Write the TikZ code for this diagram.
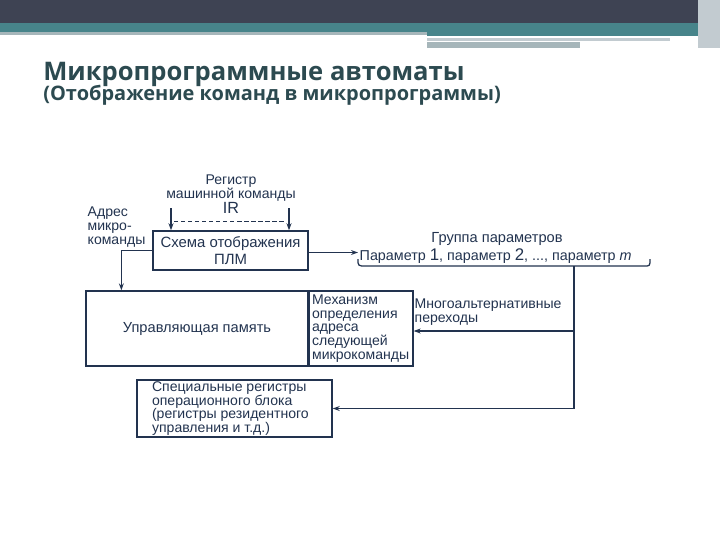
\documentclass[tikz,border=0pt]{standalone}
\usepackage{fontspec}
\setmainfont{Liberation Sans}
\newfontfamily\titlefont{Open Sans}
\usetikzlibrary{arrows.meta, positioning}
\definecolor{ink}{HTML}{22334F}
\definecolor{titlecol}{HTML}{2C4A50}
\definecolor{barDark}{HTML}{3E4353}
\definecolor{barTeal}{HTML}{47848A}
\definecolor{barGray}{HTML}{A6B6BA}
\definecolor{barLight}{HTML}{C2CBD0}

\begin{document}
\begin{tikzpicture}[x=0.025cm, y=-0.025cm,
  box/.style={draw=ink, line width=0.9pt},
  lbl/.style={font=\fontsize{10}{9.8}\selectfont, text=ink, inner sep=1pt},
  arr/.style={draw=ink, line width=0.9pt, -{Stealth[length=5pt,width=3.5pt]}},
  wire/.style={draw=ink, line width=0.9pt}]
  \useasboundingbox (0,0) rectangle (720,540);
  % header bars
  \fill[barDark] (0,0) rectangle (720,23);
  \fill[barTeal] (0,23) rectangle (720,32);
  \fill[barTeal] (427,32) rectangle (700,36);
  \fill[barGray] (0,32) rectangle (427,35);
  \fill[barLight] (427,38) rectangle (670,41);
  \fill[barGray] (427,42) rectangle (580,48);
  \fill[barLight] (698,0) rectangle (720,48);
  % title
  \node[font=\titlefont\bfseries\fontsize{18.2}{22}\selectfont, text=titlecol, anchor=base west, inner sep=0pt] (title) at (43,80) {Микропрограммные автоматы};
  \node[font=\titlefont\bfseries\fontsize{14.2}{17}\selectfont, text=titlecol, anchor=base west, inner sep=0pt] (subtitle) at (43,100) {(Отображение команд в микропрограммы)};

  % boxes
  \node[box, lbl, align=center, font=\fontsize{10.6}{12}\selectfont, minimum width=3.875cm, minimum height=0.975cm] (plm) at (230.5,250.5) {Схема отображения\\ПЛМ};
  \node[box, lbl, font=\fontsize{10.4}{12}\selectfont, minimum width=5.55cm, minimum height=1.875cm] (mem) at (197,328.5) {Управляющая память};
  \node[box, lbl, align=left, text width=2.45cm, minimum height=1.875cm, inner sep=2pt, anchor=west] (mech) at (mem.east) {Механизм\\определения\\адреса\\следующей\\микрокоманды};
  \node[box, minimum width=4.875cm, minimum height=1.425cm] (spec) at (234.5,408.5) {};
  \node[lbl, align=left, anchor=west] (specText) at ([xshift=0.35cm]spec.west) {Специальные регистры\\операционного блока\\(регистры резидентного\\управления и т.д.)};

  % labels
  \node[lbl, align=center, font=\fontsize{10}{10.2}\selectfont] (ir) at (231,194) {Регистр\\машинной команды\\{\fontsize{11.5}{11}\selectfont IR}};
  \node[lbl, align=left, anchor=west] (adr) at (86,227) {Адрес\\микро-\\команды};
  \node[lbl, font=\fontsize{10.4}{12}\selectfont] (grp) at (497,239) {Группа параметров};
  \node[lbl, font=\fontsize{10.2}{12}\selectfont, anchor=west] (par) at (358,256) {Параметр {\large 1}, параметр {\large 2}, ..., параметр \textit{m}};
  \node[lbl, align=left, anchor=west] (multi) at (413,312) {Многоальтернативные\\переходы};

  % connectors
  \coordinate (irl) at (171,208);
  \coordinate (irr) at (289,208);
  \draw[arr] (irl) -- (irl |- plm.north);
  \draw[arr] (irr) -- (irr |- plm.north);
  \draw[ink, densely dashed, line width=0.7pt] (174,221) -- (286,221);
  \draw[arr] (plm.west) -| ([xshift=0.9cm]mem.north west);
  \draw[arr] ([yshift=-0.05cm]plm.east) -- ([yshift=-0.05cm]plm.east -| par.west);
  \draw[wire] (358,259) .. controls (358,266) .. (366,266) -- (644,266) .. controls (650,266) .. (650,259);
  \coordinate (br) at (574,266);
  \coordinate (mj) at (574,331);
  \draw[wire] (br) -- (mj);
  \draw[arr] (mj) |- (spec.east);
  \draw[arr] (mj) -- (mj -| mech.east);
\end{tikzpicture}
\end{document}
